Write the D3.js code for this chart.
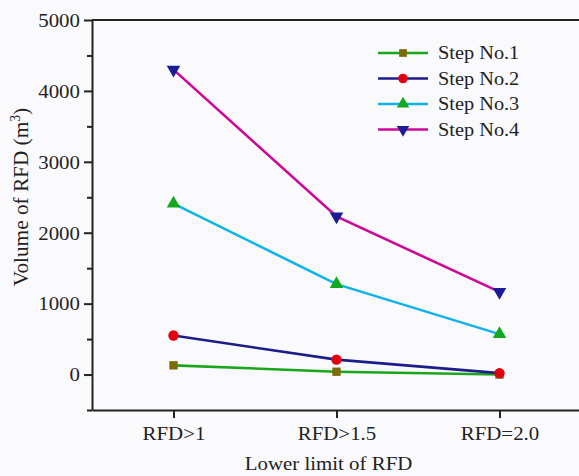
<!DOCTYPE html>
<html><head><meta charset="utf-8">
<script src="https://cdn.jsdelivr.net/npm/d3@7"></script>
<style>html,body{margin:0;padding:0;background:#fafafd;}svg{display:block;}</style>
</head><body>
<svg id="c" width="579" height="476"></svg>
<script>
const categories = ["RFD>1", "RFD>1.5", "RFD=2.0"];
const step1 = [130, 40, 0];
const step2 = [550, 210, 20];
const step3 = [2410, 1275, 570];
const step4 = [4300, 2230, 1165];
const seriesNames = ["Step No.1", "Step No.2", "Step No.3", "Step No.4"];
const yTicks = [0, 1000, 2000, 3000, 4000, 5000];
const yMinorTicks = [-500, 500, 1500, 2500, 3500, 4500];

const series = [
  {name: seriesNames[0], values: step1, line: "#1aa61a", marker: "#7d6a08", shape: d3.symbolSquare, size: 70},
  {name: seriesNames[1], values: step2, line: "#1c1c8a", marker: "#e00010", shape: d3.symbolCircle, size: 85},
  {name: seriesNames[2], values: step3, line: "#10b2ee", marker: "#14a81e", shape: d3.symbolTriangle, size: 80},
  {name: seriesNames[3], values: step4, line: "#cc0a9a", marker: "#1c1c96", shape: d3.symbolTriangle, size: 80, down: true}
];

const svg = d3.select("#c");
const font = "'Liberation Serif','Times New Roman',serif";
const SX = 1.13;
const pL = 92, pR = 581, pT = 20, pB = 410;

const x = d3.scalePoint().domain(categories).range([pL, pR]).padding(0.5);
const y = d3.scaleLinear().domain([-500, 5000]).range([pB, pT]);

// frame top line
svg.append("line").attr("x1", pL).attr("x2", pR).attr("y1", pT).attr("y2", pT)
  .attr("stroke", "#222").attr("stroke-width", 2);

// y axis
const yAxis = svg.append("g").attr("transform", `translate(${pL},0)`)
  .call(d3.axisLeft(y).tickValues(yTicks).tickFormat(d3.format("d")).tickSize(8).tickPadding(4).tickSizeOuter(0));
svg.append("g").attr("transform", `translate(${pL},0)`)
  .call(d3.axisLeft(y).tickValues(yMinorTicks).tickSize(5).tickFormat("").tickSizeOuter(0))
  .call(g => g.select(".domain").remove())
  .selectAll("line").attr("stroke", "#222").attr("stroke-width", 2);
yAxis.select(".domain").attr("stroke", "#222").attr("stroke-width", 2);
yAxis.selectAll(".tick line").attr("stroke", "#222").attr("stroke-width", 2);
yAxis.selectAll(".tick text").attr("font-family", font).attr("font-size", 18.5).attr("fill", "#222")
  .attr("transform", `scale(${SX},1)`).attr("x", -12 / SX).attr("dy", "0.34em");

// x axis
const xAxis = svg.append("g").attr("transform", `translate(0,${pB})`)
  .call(d3.axisBottom(x).tickSize(8).tickPadding(9).tickSizeOuter(0));
xAxis.select(".domain").attr("stroke", "#222").attr("stroke-width", 2);
xAxis.selectAll(".tick line").attr("stroke", "#222").attr("stroke-width", 2);
xAxis.selectAll(".tick text").attr("font-family", font).attr("font-size", 18.5).attr("fill", "#222")
  .attr("transform", `scale(${SX},1)`);

// axis titles
svg.append("text").attr("transform", `translate(${(pL + pR) / 2 - 8},470) scale(${SX},1)`)
  .attr("text-anchor", "middle").attr("font-family", font).attr("font-size", 18.5).attr("fill", "#222")
  .text("Lower limit of RFD");
const yt = svg.append("text").attr("transform", `translate(28,197) rotate(-90) scale(1.15,1.14)`)
  .attr("text-anchor", "middle").attr("font-family", font).attr("font-size", 18.5).attr("fill", "#222");
yt.append("tspan").text("Volume of RFD (m");
yt.append("tspan").attr("font-size", 12).attr("dy", -7).text("3");
yt.append("tspan").attr("dy", 7).text(")");

// lines and markers
const line = d3.line().x((d, i) => x(categories[i])).y(d => y(d));
series.forEach(s => {
  svg.append("path").datum(s.values).attr("d", line).attr("fill", "none")
    .attr("stroke", s.line).attr("stroke-width", 2.6);
});
series.forEach(s => {
  const sym = d3.symbol().type(s.shape).size(s.size);
  svg.append("g").selectAll("path").data(s.values).join("path")
    .attr("d", sym)
    .attr("transform", (d, i) => `translate(${x(categories[i])},${y(d)})${s.down ? " rotate(180)" : ""}`)
    .attr("fill", s.marker);
});

// legend
const lg = svg.append("g");
series.forEach((s, i) => {
  const yy = 53 + i * 25.5;
  lg.append("line").attr("x1", 378).attr("x2", 428).attr("y1", yy).attr("y2", yy)
    .attr("stroke", s.line).attr("stroke-width", 2.6);
  lg.append("path").attr("d", d3.symbol().type(s.shape).size(s.size * 0.85))
    .attr("transform", `translate(403,${yy})${s.down ? " rotate(180)" : ""}`).attr("fill", s.marker);
  lg.append("text").attr("transform", `translate(438,${yy + 6}) scale(${SX},1)`)
    .attr("font-family", font).attr("font-size", 18).attr("fill", "#222").text(s.name);
});
</script>
</body></html>
